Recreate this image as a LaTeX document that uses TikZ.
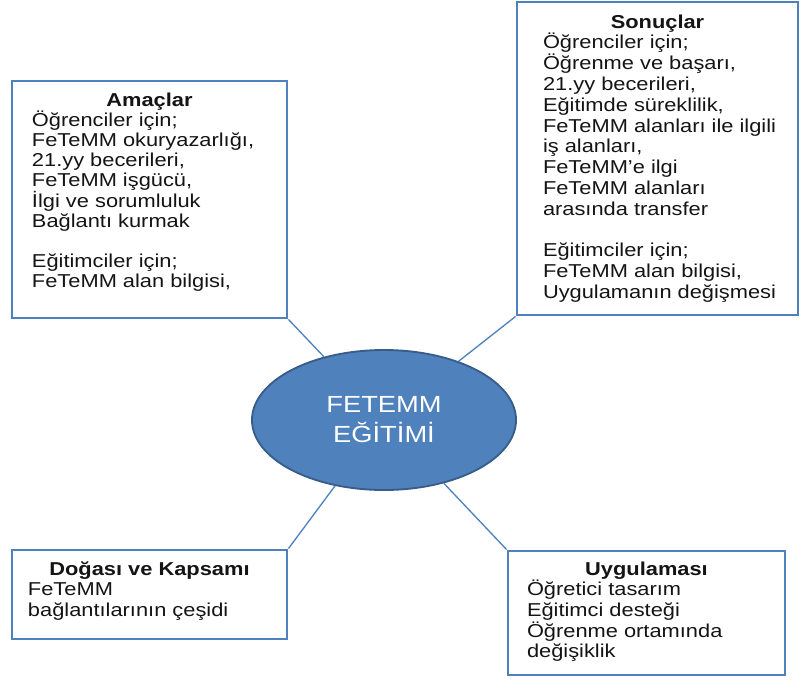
\documentclass[tikz,border=0pt]{standalone}
\usepackage{fontspec}
\setmainfont{Liberation Sans}[FakeStretch=1.17]
\usetikzlibrary{shapes.geometric}
\definecolor{edge}{HTML}{4F81BD}
\definecolor{deep}{HTML}{385D8A}
\definecolor{txt}{HTML}{141414}
\tikzset{panel/.style={draw=edge,line width=2.2pt,inner sep=0pt,text=txt,font=\fontsize{14}{15.5}\selectfont}, hub/.style={ellipse,draw=deep,line width=1.4pt,fill=edge,text=white,align=center,inner sep=0pt,minimum width=198pt,minimum height=105pt,font=\fontsize{17.5}{22.5}\selectfont}, link/.style={draw=edge,line width=1pt}}

\begin{document}
\begin{tikzpicture}[x=0.75pt,y=-0.75pt]
\useasboundingbox (0,0) rectangle (800,682);
\node[hub](fe) at (384,420){FETEMM\\EĞİTİMİ};
% boxes round the hub
\node[panel,font=\fontsize{14}{15}\selectfont](amac) at (149.5,199.5){\parbox[c][177.75pt][t]{206.25pt}{\centering\rule{0pt}{18.75pt}\textbf{Amaçlar}\par\raggedright\leftskip=15pt Öğrenciler için;\\FeTeMM okuryazarlığı,\\21.yy becerileri,\\FeTeMM işgücü,\\İlgi ve sorumluluk\\Bağlantı kurmak\\[\baselineskip]Eğitimciler için;\\FeTeMM alan bilgisi,}};
\node[panel,font=\fontsize{14}{15.6}\selectfont](sonuc) at (657.5,158.5){\parbox[c][234.75pt][t]{210.75pt}{\centering\rule{0pt}{19.5pt}\textbf{Sonuçlar}\par\raggedright\leftskip=19.5pt Öğrenciler için;\\Öğrenme ve başarı,\\21.yy becerileri,\\Eğitimde süreklilik,\\FeTeMM alanları ile ilgili\\iş alanları,\\FeTeMM’e ilgi\\FeTeMM alanları\\arasında transfer\\[\baselineskip]Eğitimciler için;\\FeTeMM alan bilgisi,\\Uygulamanın değişmesi}};
\node[panel](doga) at (149.5,594.5){\parbox[c][66.75pt][t]{206.25pt}{\centering\rule{0pt}{18.75pt}\textbf{Doğası ve Kapsamı}\par\raggedright\leftskip=12pt FeTeMM\\bağlantılarının çeşidi}};
\node[panel](uygu) at (646.5,613){\parbox[c][93pt][t]{207.75pt}{\centering\rule{0pt}{18pt}\textbf{Uygulaması}\par\raggedright\leftskip=14.25pt Öğretici tasarım\\Eğitimci desteği\\Öğrenme ortamında\\değişiklik}};
\foreach \b/\c in {amac/south east,sonuc/south west,doga/north east,uygu/north west}{\draw[link](\b.\c)--(fe);}
\end{tikzpicture}
\end{document}
